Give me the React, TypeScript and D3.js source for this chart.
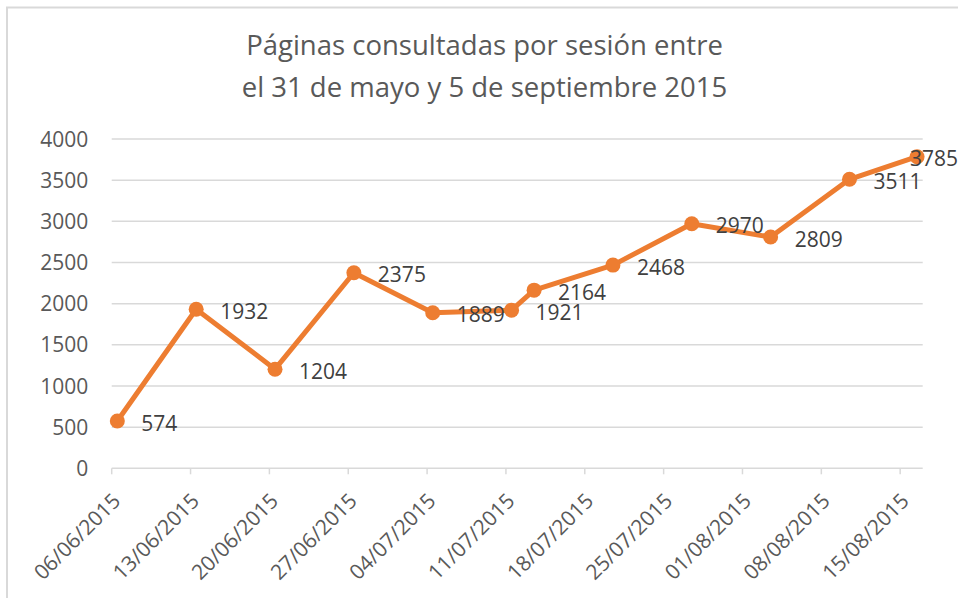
import React from "react";
import * as d3 from "d3";

const title = ["Páginas consultadas por sesión entre", "el 31 de mayo y 5 de septiembre 2015"];
const dates = ["2015-06-06", "2015-06-13", "2015-06-20", "2015-06-27", "2015-07-04", "2015-07-11", "2015-07-13", "2015-07-20", "2015-07-27", "2015-08-03", "2015-08-10", "2015-08-16"];
const values = [574, 1932, 1204, 2375, 1889, 1921, 2164, 2468, 2970, 2809, 3511, 3785];
const yTicks = [0, 500, 1000, 1500, 2000, 2500, 3000, 3500, 4000];
const axisStart = "2015-06-06";
const axisEnd = "2015-08-17";

const W = 958;
const H = 598;
const FONT = "'Open Sans', Calibri, sans-serif";
const ORANGE = "#ED7D31";
const GRID = "#d9d9d9";

const parse = (s: string) => new Date(s + "T00:00:00Z");

export default function App() {
  const x = d3.scaleUtc().domain([parse(axisStart), parse(axisEnd)]).range([111.7, 922.7]);
  const y = d3.scaleLinear().domain([0, 4000]).range([468.3, 139]);
  const xTicks = d3.utcDay.every(7)!.range(parse(axisStart), parse("2015-08-16"));
  // Excel date axis: ticks weekly from first date
  const weekTicks = d3.range(0, 11).map((i) => d3.utcDay.offset(parse(axisStart), i * 7));
  const fmt = d3.utcFormat("%d/%m/%Y");
  const pts = dates.map((d, i) => ({
    x: x(d3.utcHour.offset(parse(d), 12)),
    y: y(values[i]),
    v: values[i],
  }));
  const line = d3.line<{ x: number; y: number }>().x((d) => d.x).y((d) => d.y);
  const fs = 21;
  void xTicks;

  return (
    <svg width={W} height={H} style={{ position: "absolute", left: 0, top: 0, background: "#fff" }} fontFamily={FONT}>
      <rect x={0} y={0} width={W} height={H} fill="#fff" />
      <rect x={7} y={7.5} width={W + 10} height={H + 10} fill="none" stroke={GRID} strokeWidth={2} />
      {title.map((t, i) => (
        <text key={i} x={484.5} y={54.5 + i * 42.4} textAnchor="middle" fontSize={27.5} fill="#595959">
          {t}
        </text>
      ))}
      {yTicks.map((t) => (
        <g key={t}>
          {t > 0 && <line x1={111.7} x2={922.7} y1={y(t)} y2={y(t)} stroke={GRID} strokeWidth={1.5} />}
          <text x={88.3} y={y(t)} dy="0.36em" textAnchor="end" fontSize={fs} fill="#595959">
            {t}
          </text>
        </g>
      ))}
      <line x1={111.7} x2={922.7} y1={y(0)} y2={y(0)} stroke={GRID} strokeWidth={1.5} />
      {weekTicks.map((d, i) => (
        <g key={i}>
          <line x1={x(d)} x2={x(d)} y1={y(0)} y2={y(0) + 6} stroke={GRID} strokeWidth={1.5} />
          <text
            transform={`translate(${x(d) + 10},${y(0) + 34}) rotate(-45)`}
            textAnchor="end"
            fontSize={fs}
            fill="#595959"
          >
            {fmt(d)}
          </text>
        </g>
      ))}
      <path d={line(pts)!} fill="none" stroke={ORANGE} strokeWidth={5} strokeLinejoin="round" />
      {pts.map((p, i) => (
        <circle key={i} cx={p.x} cy={p.y} r={7.5} fill={ORANGE} />
      ))}
      {pts.map((p, i) => {
        const tw = String(p.v).length * 0.572 * fs;
        const lx = Math.min(p.x + 24, W - tw);
        return (
          <text key={i} x={lx} y={p.y + 9.5} fontSize={fs} fill="#404040">
            {p.v}
          </text>
        );
      })}
    </svg>
  );
}
